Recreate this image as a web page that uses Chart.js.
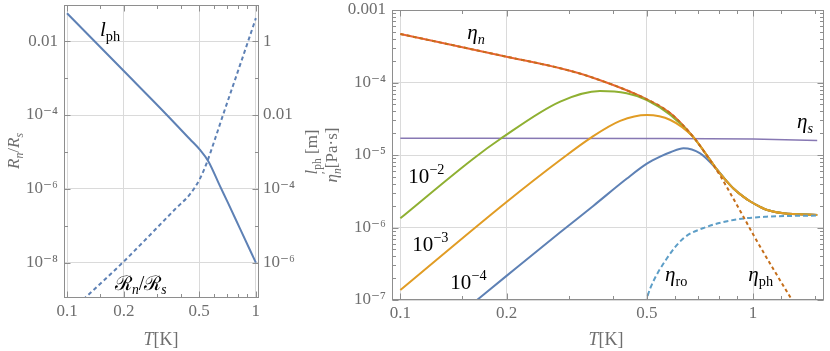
<!DOCTYPE html>
<html><head><meta charset="utf-8">
<script src="https://cdn.jsdelivr.net/npm/chart.js@4.4.1/dist/chart.umd.min.js"></script>
<style>
html,body{margin:0;padding:0;background:#fff;}
#wrap{position:relative;width:830px;height:351px;overflow:hidden;background:#fff;}
canvas{position:absolute;top:0;}
#cL{left:0;} #cR{left:300px;}
</style></head><body>
<div id="wrap"><canvas id="cL" width="330" height="351"></canvas><canvas id="cR" width="530" height="351"></canvas></div>
<script>
// ---------------- DATA ----------------
// Left panel: phonon mean free path l_ph [m] (right axis)
const lphT = [0.1, 0.2, 0.337, 0.448, 0.505, 0.56, 0.645, 0.71, 0.823, 1.0];
const lphM = [5.7, 0.155, 0.0102, 0.0022, 0.00115, 5.6e-4, 1.2e-4, 4.3e-5, 8.5e-6, 1.0e-6];
// Left panel: Rn/Rs (left axis)
const rnT = [0.122, 0.2, 0.372, 0.448, 0.505, 0.549, 0.606, 0.67, 0.781, 0.909, 1.0];
const rnV = [1.0e-9, 1.08e-8, 2.75e-7, 7.2e-7, 1.86e-6, 5.0e-6, 2.14e-5, 1.0e-4, 1.0e-3, 9.8e-3, 4.2e-2];

// Right panel: eta_n (upper part) and common high-T tail
const etaNT = [0.1, 0.2, 0.284, 0.345, 0.5, 0.583, 0.676];
const etaNV = [4.67e-4, 2.27e-4, 1.57e-4, 1.20e-4, 5.86e-5, 3.76e-5, 1.79e-5];
const tailT = [0.756, 0.79, 0.84, 0.88, 0.93, 0.98, 1.044, 1.091, 1.22, 1.52];
const tailV = [8.5e-6, 6.3e-6, 4.4e-6, 3.45e-6, 2.75e-6, 2.3e-6, 1.94e-6, 1.76e-6, 1.57e-6, 1.49e-6];
// eta_ph beyond the point where it leaves eta_n
const etaPhT = [0.756, 0.808, 0.842, 0.939, 1.01, 1.297, 1.36];
const etaPhV = [8.4e-6, 5.13e-6, 3.63e-6, 1.41e-6, 7.4e-7, 9.5e-8, 6.5e-8];
// eta_ro
const etaRoT = [0.495, 0.51, 0.57, 0.635, 0.72, 0.88, 1.091, 1.52];
const etaRoV = [8.9e-8, 1.41e-7, 3.76e-7, 7.1e-7, 9.75e-7, 1.27e-6, 1.41e-6, 1.46e-6];
// eta_s
const etaST = [0.1, 0.5, 1.0, 1.52];
const etaSV = [1.70e-5, 1.69e-5, 1.66e-5, 1.58e-5];
// frequency curves 1e-2, 1e-3, 1e-4 (before joining the tail)
const g2T = [0.1, 0.161, 0.192, 0.284, 0.368, 0.438, 0.5, 0.583, 0.676];
const g2V = [1.34e-6, 8.9e-6, 1.66e-5, 5.45e-5, 7.64e-5, 7.1e-5, 5.74e-5, 3.56e-5, 1.78e-5];
const g3T = [0.1, 0.2, 0.284, 0.345, 0.42, 0.5, 0.583, 0.676];
const g3V = [1.37e-7, 2.25e-6, 8.53e-6, 1.70e-5, 2.95e-5, 3.56e-5, 3.04e-5, 1.78e-5];
const g4T = [0.162, 0.2, 0.284, 0.353, 0.438, 0.5, 0.545, 0.583, 0.635, 0.708];
const g4V = [9.3e-8, 2.15e-7, 8.6e-7, 2.0e-6, 4.7e-6, 7.6e-6, 9.5e-6, 1.09e-5, 1.24e-5, 1.05e-5];

// Tick labels
const lXTicks = [0.1, 0.2, 0.5, 1];
const lXLabels = ['0.1', '0.2', '0.5', '1'];
const lYTicks = [1e-2, 1e-4, 1e-6, 1e-8];
const lYLabels = ['0.01', '10⁻⁴', '10⁻⁶', '10⁻⁸'];
const lY2Ticks = [1, 1e-2, 1e-4, 1e-6];
const lY2Labels = ['1', '0.01', '10⁻⁴', '10⁻⁶'];
const rXTicks = [0.1, 0.2, 0.5, 1];
const rXLabels = ['0.1', '0.2', '0.5', '1'];
const rYTicks = [1e-3, 1e-4, 1e-5, 1e-6, 1e-7];
const rYLabels = ['0.001', '10⁻⁴', '10⁻⁵', '10⁻⁶', '10⁻⁷'];

// ---------------- helpers ----------------
const pts = (xs, ys) => xs.map((x, i) => ({x: x, y: ys[i]}));
const FONT = "'Liberation Serif', 'DejaVu Serif', serif";
const TICKC = '#6e6e6e', FRAMEC = '#8e8e8e', GRIDC = '#dadada';
const C = {blue:'#5E81B5', orange:'#E19C24', green:'#8FB032', red:'#EB6235', purple:'#8778B3', brown:'#C56E1A', lblue:'#5D9EC7'};

function richRun(ctx, parts, x, y, size, draw) {
  let cx = x;
  for (const p of parts) {
    const s = (p.sub || p.sup) ? size * 0.68 : size;
    ctx.font = (p.it ? 'italic ' : '') + s + 'px ' + FONT;
    const dy = p.sub ? size * 0.24 : (p.sup ? -size * 0.42 : 0);
    if (draw) ctx.fillText(p.t, cx, y + dy);
    if (!p.stay) cx += ctx.measureText(p.t).width;
    cx += (p.pad || 0);
  }
  return cx - x;
}
const richPlugin = {
  id: 'rich',
  afterDraw(chart, args, o) {
    const ctx = chart.ctx;
    ctx.save();
    ctx.textAlign = 'left'; ctx.textBaseline = 'alphabetic';
    for (const L of (o.labels || [])) {
      const xs = chart.scales.x, ys = chart.scales[L.yAxis || 'y'];
      ctx.fillStyle = L.color || '#000';
      richRun(ctx, L.parts, xs.getPixelForValue(L.x), ys.getPixelForValue(L.y), L.size, true);
    }
    for (const T of (o.titles || [])) {
      const w = richRun(ctx, T.parts, 0, 0, T.size, false);
      ctx.save();
      ctx.translate(T.px, T.py);
      if (T.rot) ctx.rotate(-Math.PI / 2);
      ctx.fillStyle = T.color || TICKC;
      richRun(ctx, T.parts, -w / 2, 0, T.size, true);
      ctx.restore();
    }
    ctx.restore();
  }
};
const framePlugin = {
  id: 'frame',
  afterDatasetsDraw(chart, args, o) {
    const {ctx, chartArea: a, scales} = chart;
    const xs = scales.x, ys = scales.y;
    const L = Math.round(a.left) + 0.5, R = Math.round(a.right) - 0.5, T = Math.round(a.top) + 0.5, B = Math.round(a.bottom) - 0.5;
    ctx.save();
    ctx.strokeStyle = FRAMEC; ctx.lineWidth = 1;
    ctx.strokeRect(L, T, R - L, B - T);
    ctx.beginPath();
    const tx = (vals, len) => vals.forEach(v => { const p = Math.round(xs.getPixelForValue(v)) + 0.5; ctx.moveTo(p, B); ctx.lineTo(p, B - len); ctx.moveTo(p, T); ctx.lineTo(p, T + len); });
    const ty = (vals, len) => vals.forEach(v => { const p = Math.round(ys.getPixelForValue(v)) + 0.5; ctx.moveTo(L, p); ctx.lineTo(L + len, p); ctx.moveTo(R, p); ctx.lineTo(R - len, p); });
    tx(o.xMajor, 6); tx(o.xMinor, 3.5); ty(o.yMajor, 6); ty(o.yMinor, 3.5);
    ctx.stroke();
    ctx.restore();
  }
};
const fixAxis = (w, h) => (s) => {
  s.paddingTop = 0; s.paddingBottom = 0; s.paddingLeft = 0; s.paddingRight = 0;
  if (w !== null) s.width = w;
  if (h !== null) s.height = h;
};
const setTicks = (vals) => (s) => { s.ticks = vals.map(v => ({value: v})); };
const tickFont = {family: FONT, size: 17};
const line = (data, color, extra) => Object.assign({data: data, borderColor: color, borderWidth: 2, pointRadius: 0,
  cubicInterpolationMode: 'monotone', fill: false, clip: 0, borderJoinStyle: 'round'}, extra || {});

// ---------------- LEFT CHART ----------------
new Chart(document.getElementById('cL'), {
  type: 'line',
  data: {datasets: [
    line(pts(lphT, lphM), C.blue, {label: 'l_ph', yAxisID: 'y2'}),
    line(pts(rnT, rnV), C.blue, {label: 'Rn/Rs', yAxisID: 'y', borderDash: [4, 3]})
  ]},
  options: {
    responsive: false, animation: false, events: [],
    layout: {padding: {top: 5, left: 0, right: 0, bottom: 0}},
    plugins: {
      legend: {display: false}, tooltip: {enabled: false},
      frame: {xMajor: lXTicks, xMinor: [0.15, 0.3, 0.4, 0.6, 0.7, 0.8, 0.9], yMajor: lYTicks, yMinor: [1e-3, 1e-5, 1e-7]},
      rich: {
        labels: [
          {x: 0.1495, y: 0.01416, size: 21, parts: [{t: 'l', it: 1}, {t: 'ph', sub: 1}]},
          {x: 0.1795, y: 1.86e-9, size: 20, parts: [{t: 'ℛ'}, {t: 'n', it: 1, sub: 1}, {t: '/'}, {t: 'ℛ'}, {t: 's', it: 1, sub: 1}]}
        ],
        titles: [
          {px: 19, py: 151, rot: 1, size: 17, parts: [{t: 'R', it: 1}, {t: 'n', it: 1, sub: 1}, {t: '/'}, {t: 'R', it: 1}, {t: 's', it: 1, sub: 1}]},
          {px: 161, py: 345, size: 18, parts: [{t: 'T', it: 1}, {t: '[K]'}]},
          {px: 317, py: 152, rot: 1, size: 17, parts: [{t: 'l', it: 1}, {t: 'ph', sub: 1}, {t: ' [m]'}]}
        ]
      }
    },
    scales: {
      x: {type: 'logarithmic', min: 0.0964, max: 1.039, afterBuildTicks: setTicks(lXTicks), afterFit: fixAxis(null, 53),
          ticks: {callback: (v, i) => lXLabels[i], font: tickFont, color: TICKC, padding: 3, autoSkip: false, maxRotation: 0},
          grid: {color: GRIDC, drawTicks: false}, border: {display: false}},
      y: {type: 'logarithmic', position: 'left', min: Math.pow(10, -8.957), max: Math.pow(10, -1.02), afterBuildTicks: setTicks(lYTicks), afterFit: fixAxis(64, null),
          ticks: {callback: (v, i) => lYLabels[i], font: tickFont, color: TICKC, padding: 6, autoSkip: false},
          grid: {color: GRIDC, drawTicks: false}, border: {display: false}},
      y2: {type: 'logarithmic', position: 'right', min: Math.pow(10, -6.957), max: Math.pow(10, 0.98), afterBuildTicks: setTicks(lY2Ticks), afterFit: fixAxis(71, null),
          ticks: {callback: (v, i) => lY2Labels[i], font: tickFont, color: TICKC, padding: 4, autoSkip: false},
          grid: {display: false, drawTicks: false}, border: {display: false}}
    }
  },
  plugins: [framePlugin, richPlugin]
});

// ---------------- RIGHT CHART ----------------
const rMinor = [];
[1e-7, 1e-6, 1e-5, 1e-4].forEach(d => { for (let k = 2; k <= 9; k++) rMinor.push(k * d); });
new Chart(document.getElementById('cR'), {
  type: 'line',
  data: {datasets: [
    line(pts(etaNT.concat(etaPhT), etaNV.concat(etaPhV)), C.brown, {label: 'eta_ph', borderDash: [3.5, 3], order: 0}),
    line(pts(etaRoT, etaRoV), C.lblue, {label: 'eta_ro', borderDash: [5, 3], order: 1}),
    line(pts(g3T.concat(tailT), g3V.concat(tailV)), C.orange, {label: '1e-3', order: 2}),
    line(pts(g2T.concat(tailT), g2V.concat(tailV)), C.green, {label: '1e-2', order: 3}),
    line(pts(g4T.concat(tailT.slice(1)), g4V.concat(tailV.slice(1))), C.blue, {label: '1e-4', order: 4}),
    line(pts(etaNT.concat(tailT), etaNV.concat(tailV)), C.red, {label: 'eta_n', order: 5}),
    line(pts(etaST, etaSV), C.purple, {label: 'eta_s', borderWidth: 1.5, order: 6})
  ]},
  options: {
    responsive: false, animation: false, events: [],
    layout: {padding: {top: 10, left: 0, right: 6, bottom: 0}},
    plugins: {
      legend: {display: false}, tooltip: {enabled: false},
      frame: {xMajor: rXTicks, xMinor: [0.15, 0.3, 0.4, 0.6, 0.7, 0.8, 0.9, 1.2, 1.5], yMajor: rYTicks, yMinor: rMinor},
      rich: {
        labels: [
          {x: 0.1548, y: 3.98e-4, size: 21, parts: [{t: 'η', it: 1}, {t: 'n', it: 1, sub: 1}]},
          {x: 1.332, y: 2.35e-5, size: 21, parts: [{t: 'η', it: 1}, {t: 's', it: 1, sub: 1}]},
          {x: 0.1053, y: 4.11e-6, size: 21, parts: [{t: '10'}, {t: '−2', sup: 1}]},
          {x: 0.1081, y: 4.74e-7, size: 21, parts: [{t: '10'}, {t: '−3', sup: 1}]},
          {x: 0.1386, y: 1.41e-7, size: 21, parts: [{t: '10'}, {t: '−4', sup: 1}]},
          {x: 0.5628, y: 1.83e-7, size: 21, parts: [{t: 'η', it: 1}, {t: 'ro', sub: 1}]},
          {x: 0.9696, y: 1.83e-7, size: 21, parts: [{t: 'η', it: 1}, {t: 'ph', sub: 1}]}
        ],
        titles: [
          {px: 37, py: 155, rot: 1, size: 17, parts: [{t: 'η', it: 1}, {t: '′', sup: 1, stay: 1}, {t: 'n', it: 1, sub: 1}, {t: '[Pa·s]'}]},
          {px: 306, py: 345, size: 18, parts: [{t: 'T', it: 1}, {t: '[K]'}]}
        ]
      }
    },
    scales: {
      x: {type: 'logarithmic', min: 0.0947, max: 1.589, afterBuildTicks: setTicks(rXTicks), afterFit: fixAxis(null, 51),
          ticks: {callback: (v, i) => rXLabels[i], font: tickFont, color: TICKC, padding: 3, autoSkip: false, maxRotation: 0},
          grid: {color: GRIDC, drawTicks: false}, border: {display: false}},
      y: {type: 'logarithmic', position: 'left', min: 1e-7, max: 1e-3, afterBuildTicks: setTicks(rYTicks), afterFit: fixAxis(92, null),
          ticks: {callback: (v, i) => rYLabels[i], font: tickFont, color: TICKC, padding: 6, autoSkip: false},
          grid: {color: GRIDC, drawTicks: false}, border: {display: false}}
    }
  },
  plugins: [framePlugin, richPlugin]
});
</script></body></html>
